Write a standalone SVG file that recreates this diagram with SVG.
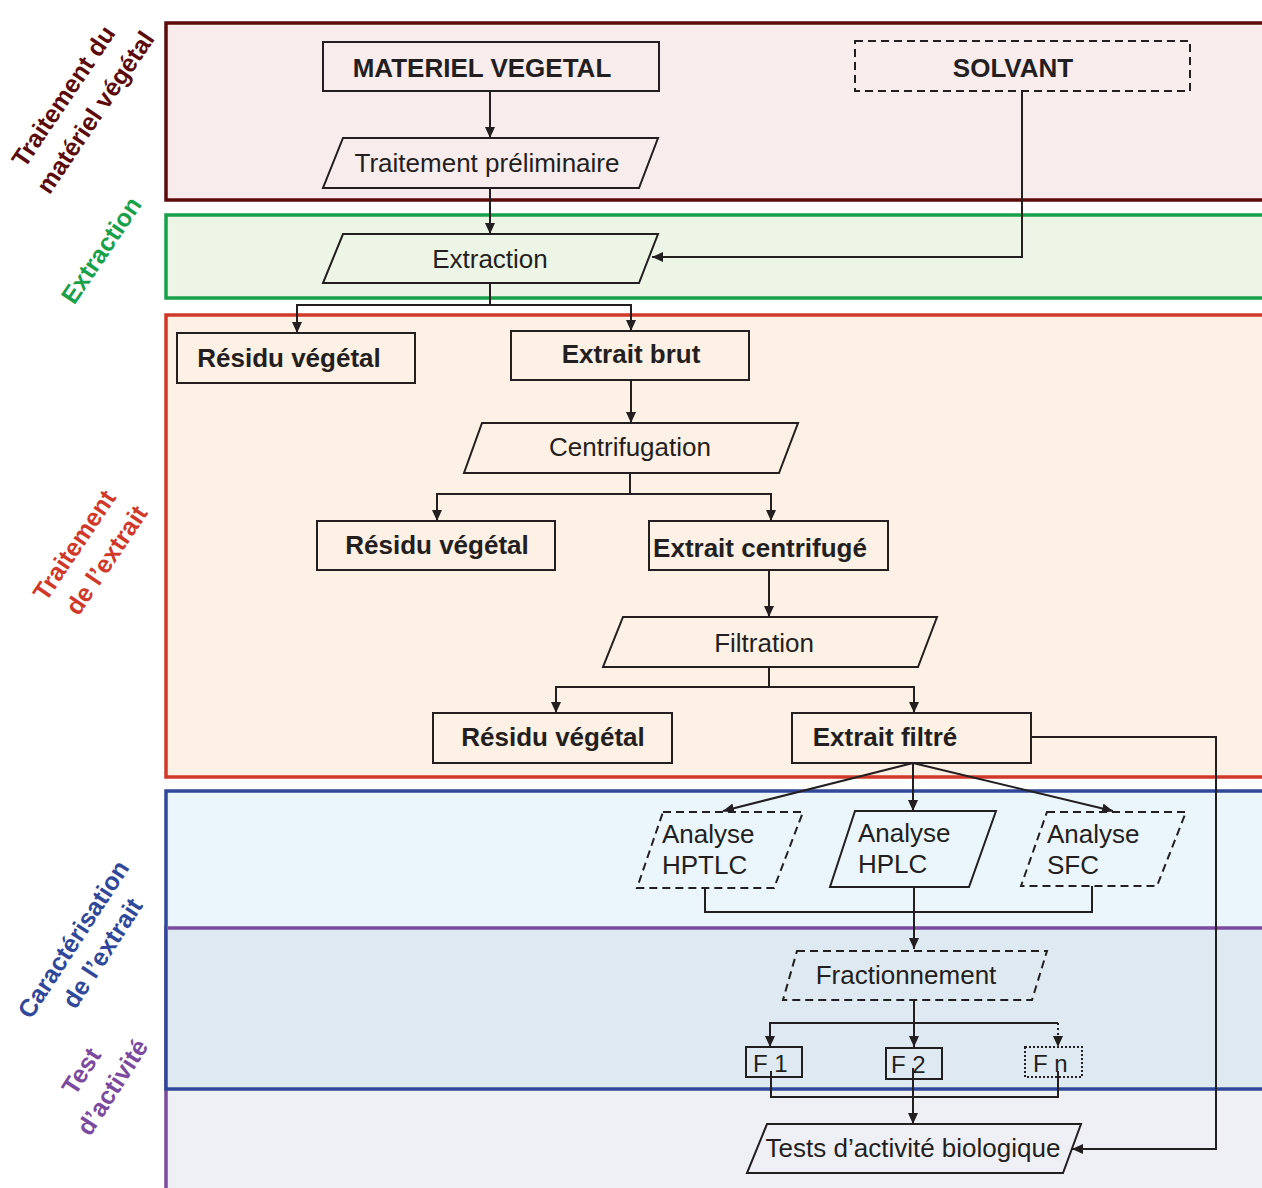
<svg xmlns="http://www.w3.org/2000/svg" width="1262" height="1188" viewBox="0 0 1262 1188">
<style>
.t{font-family:"Liberation Sans",Arial,sans-serif;font-size:26px;fill:#231f20}
.b{font-weight:bold}
.m{text-anchor:middle}
.lab{font-family:"Liberation Sans",Arial,sans-serif;font-size:25px;font-weight:bold;text-anchor:middle}
.n{fill:none;stroke:#231f20;stroke-width:2}
.d{stroke-dasharray:8 5}
.c{fill:none;stroke:#231f20;stroke-width:2}
</style>
<defs>
<marker id="ah" markerUnits="userSpaceOnUse" markerWidth="12" markerHeight="12" refX="11" refY="5" orient="auto">
<path d="M0,0 L11,5 L0,10 Z" fill="#231f20"/>
</marker>
</defs>
<rect width="1262" height="1188" fill="#ffffff"/>
<g id="bands">
<rect x="166" y="23" width="1110" height="177" fill="#f8ecec" stroke="#5c0b0b" stroke-width="3.5"/>
<rect x="166" y="215" width="1110" height="83" fill="#edf5e6" stroke="#19a04a" stroke-width="3.5"/>
<rect x="166" y="315" width="1110" height="462" fill="#fdf0e4" stroke="#d0382a" stroke-width="3.5"/>
<rect x="166" y="928" width="1110" height="300" fill="#efeff6" stroke="#7b4a9e" stroke-width="3.5"/>
<rect x="166" y="791" width="1110" height="298" fill="#eaf6fb" stroke="#2f4899" stroke-width="3.5"/>
<rect x="168" y="929.5" width="1110" height="157.5" fill="#dfe9f1"/>
<line x1="168" y1="928" x2="1270" y2="928" stroke="#7b4a9e" stroke-width="3.5"/>
</g>
<g id="labels">
<g transform="translate(63,96) rotate(-56)"><text class="lab" x="0" y="9" fill="#5c0b0b">Traitement du</text></g>
<g transform="translate(95,112) rotate(-56)"><text class="lab" x="0" y="9" fill="#5c0b0b">matériel végétal</text></g>
<g transform="translate(101,250) rotate(-56)"><text class="lab" x="0" y="9" fill="#19a04a">Extraction</text></g>
<g transform="translate(74,545) rotate(-56)"><text class="lab" x="0" y="9" fill="#d0382a">Traitement</text></g>
<g transform="translate(106,560) rotate(-56)"><text class="lab" x="0" y="9" fill="#d0382a">de l’extrait</text></g>
<g transform="translate(73,939) rotate(-57)"><text class="lab" x="0" y="9" fill="#2f4899">Caractérisation</text></g>
<g transform="translate(102,953) rotate(-57)"><text class="lab" x="0" y="9" fill="#2f4899">de l’extrait</text></g>
<g transform="translate(81,1071) rotate(-57)"><text class="lab" x="0" y="9" fill="#7b4a9e">Test</text></g>
<g transform="translate(112,1087) rotate(-57)"><text class="lab" x="0" y="9" fill="#7b4a9e">d’activité</text></g>
</g>
<g id="connectors">
<line class="c" x1="490" y1="91" x2="490" y2="138" marker-end="url(#ah)"/>
<line class="c" x1="490" y1="188" x2="490" y2="234" marker-end="url(#ah)"/>
<polyline class="c" points="1022,91 1022,257 652,257" marker-end="url(#ah)"/>
<polyline class="c" points="490,283 490,305"/>
<polyline class="c" points="490,305 297,305 297,333" marker-end="url(#ah)"/>
<polyline class="c" points="490,305 631,305 631,331" marker-end="url(#ah)"/>
<line class="c" x1="631" y1="380" x2="631" y2="423" marker-end="url(#ah)"/>
<polyline class="c" points="630,473 630,494"/>
<polyline class="c" points="630,494 437,494 437,521" marker-end="url(#ah)"/>
<polyline class="c" points="630,494 771,494 771,521" marker-end="url(#ah)"/>
<line class="c" x1="769" y1="570" x2="769" y2="617" marker-end="url(#ah)"/>
<polyline class="c" points="769,667 769,687"/>
<polyline class="c" points="769,687 556,687 556,713" marker-end="url(#ah)"/>
<polyline class="c" points="769,687 914,687 914,713" marker-end="url(#ah)"/>
<polyline class="c" points="1031,737 1216,737 1216,1149 1072,1149" marker-end="url(#ah)"/>
<line class="c" x1="913" y1="763" x2="723" y2="811" marker-end="url(#ah)"/>
<line class="c" x1="913" y1="763" x2="913" y2="811" marker-end="url(#ah)"/>
<line class="c" x1="913" y1="763" x2="1113" y2="811" marker-end="url(#ah)"/>
<polyline class="c" points="705,888 705,912 1092,912 1092,886"/>
<line class="c" x1="914" y1="887" x2="914" y2="949" marker-end="url(#ah)"/>
<line class="c" x1="914" y1="1000" x2="914" y2="1047" marker-end="url(#ah)"/>
<polyline class="c" points="914,1023 770,1023 770,1047" marker-end="url(#ah)"/>
<line class="c" x1="914" y1="1023" x2="1058" y2="1023"/>
<line class="c" x1="1058" y1="1023" x2="1058" y2="1047" stroke-dasharray="2 3" marker-end="url(#ah)"/>
<polyline class="c" points="771,1071 771,1097 1058,1097 1058,1071"/>
<line class="c" x1="913" y1="1068" x2="913" y2="1124" marker-end="url(#ah)"/>
</g>
<g id="n-materiel"><rect class="n" x="323" y="42" width="336" height="49"/><text class="t b m" x="482" y="77">MATERIEL VEGETAL</text></g>
<g id="n-solvant"><rect class="n d" x="855" y="41" width="335" height="50"/><text class="t b m" x="1013" y="77">SOLVANT</text></g>
<g id="n-pretraitement"><polygon class="n" points="343,138 658,138 639,188 323,188"/><text class="t m" x="487" y="172">Traitement préliminaire</text></g>
<g id="n-extraction"><polygon class="n" points="343,234 658,234 639,283 323,283"/><text class="t m" x="490" y="268">Extraction</text></g>
<g id="n-residu1"><rect class="n" x="177" y="333" width="238" height="50"/><text class="t b m" x="289" y="367">Résidu végétal</text></g>
<g id="n-brut"><rect class="n" x="511" y="331" width="238" height="49"/><text class="t b m" x="631" y="363">Extrait brut</text></g>
<g id="n-centrifugation"><polygon class="n" points="482,423 798,423 779,473 464,473"/><text class="t m" x="630" y="456">Centrifugation</text></g>
<g id="n-residu2"><rect class="n" x="317" y="521" width="238" height="49"/><text class="t b m" x="437" y="554">Résidu végétal</text></g>
<g id="n-centrifuge"><rect class="n" x="649" y="521" width="239" height="49"/><text class="t b m" x="760" y="557">Extrait centrifugé</text></g>
<g id="n-filtration"><polygon class="n" points="623,617 937,617 918,667 603,667"/><text class="t m" x="764" y="652">Filtration</text></g>
<g id="n-residu3"><rect class="n" x="433" y="713" width="239" height="50"/><text class="t b m" x="553" y="746">Résidu végétal</text></g>
<g id="n-filtre"><rect class="n" x="792" y="713" width="239" height="50"/><text class="t b m" x="885" y="746">Extrait filtré</text></g>
<g id="n-hptlc"><polygon class="n d" points="663,812 803,812 774,888 637,888"/><text class="t" x="662" y="843">Analyse</text><text class="t" x="662" y="874">HPTLC</text></g>
<g id="n-hplc"><polygon class="n" points="855,811 996,811 969,887 830,887"/><text class="t" x="858" y="842">Analyse</text><text class="t" x="858" y="873">HPLC</text></g>
<g id="n-sfc"><polygon class="n d" points="1047,812 1186,812 1157,886 1021,886"/><text class="t" x="1047" y="843">Analyse</text><text class="t" x="1047" y="874">SFC</text></g>
<g id="n-fractionnement"><polygon class="n d" points="797,951 1047,951 1032,1000 783,1000"/><text class="t m" x="906" y="984">Fractionnement</text></g>
<g id="n-f1"><rect class="n" x="746" y="1047" width="56" height="30"/><text class="t" style="font-size:24px" x="753" y="1072">F 1</text></g>
<g id="n-f2"><rect class="n" x="886" y="1048" width="56" height="31"/><text class="t" style="font-size:24px" x="891" y="1073">F 2</text></g>
<g id="n-fn"><rect class="n" x="1025" y="1047" width="57" height="30" stroke-dasharray="2 2"/><text class="t" style="font-size:24px" x="1033" y="1072">F n</text></g>
<g id="n-tests"><polygon class="n" points="767,1124 1081,1124 1063,1173 747,1173"/><text class="t m" x="913" y="1157">Tests d’activité biologique</text></g>
</svg>
